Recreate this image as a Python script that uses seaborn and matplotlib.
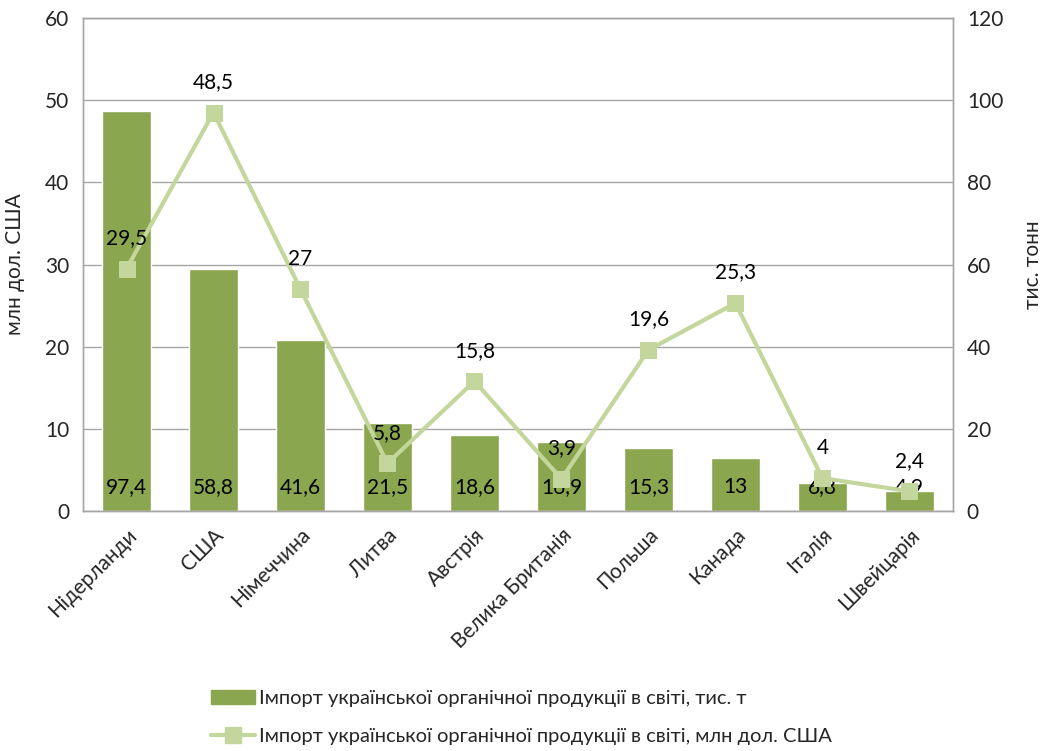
import matplotlib
matplotlib.use("Agg")
import matplotlib.pyplot as plt
import pandas as pd
import seaborn as sns
from matplotlib.lines import Line2D
from matplotlib.patches import Patch

countries = ["Нідерланди", "США", "Німеччина", "Литва", "Австрія",
             "Велика Британія", "Польша", "Канада", "Італія", "Швейцарія"]
tonnes = [97.4, 58.8, 41.6, 21.5, 18.6, 16.9, 15.3, 13, 6.8, 4.9]
usd = [29.5, 48.5, 27, 5.8, 15.8, 3.9, 19.6, 25.3, 4, 2.4]

bar_label = "Імпорт української органічної продукції в світі, тис. т"
line_label = "Імпорт української органічної продукції в світі, млн дол. США"

bar_color = "#8aa64f"
line_color = "#c3d69b"
grid_color = "#a6a6a6"
fs = 15

sns.set_style("white")
plt.rcParams["font.family"] = ["Lato", "DejaVu Sans"]

df = pd.DataFrame({"country": countries, "tonnes": tonnes, "usd": usd})

fig = plt.figure(figsize=(10.43, 7.51), dpi=100)
ax = fig.add_axes([0.0796, 0.3196, 0.834, 0.6564])
ax2 = ax.twinx()

# bars on the tonnes axis (right side)
sns.barplot(data=df, x="country", y="tonnes", color=bar_color, width=0.56,
            saturation=1, ax=ax, zorder=2)
ax.set_ylim(0, 120)
ax.set_yticks(range(0, 121, 20))
ax.set_xlabel("")
ax.grid(axis="y", color=grid_color, linewidth=1, zorder=0)
ax.set_axisbelow(True)
ax.set_xlim(-0.5, len(countries) - 0.5)

for i, v in enumerate(tonnes):
    ax.annotate(f"{v:g}".replace(".", ","), xy=(i, 0), xytext=(0, 17),
                textcoords="offset points", ha="center", va="center",
                fontsize=fs, color="black", zorder=5)

# line on the usd axis (left side)
sns.lineplot(data=df, x="country", y="usd", color=line_color, linewidth=3,
             marker="s", markersize=12, markeredgecolor=line_color,
             ax=ax2, sort=False)
ax2.set_ylim(0, 60)
ax2.set_yticks(range(0, 61, 10))
ax2.set_xlabel("")
ax2.set_xlim(-0.5, len(countries) - 0.5)

for i, v in enumerate(usd):
    ax2.annotate(f"{v:g}".replace(".", ","), xy=(i, v), xytext=(0, 22),
                 textcoords="offset points", ha="center", va="center",
                 fontsize=fs, color="black")

# swap sides: bars axis on the right, line axis on the left
ax.yaxis.tick_right()
ax.yaxis.set_label_position("right")
ax.set_ylabel("тис. тонн", fontsize=fs, labelpad=14)
ax2.yaxis.tick_left()
ax2.yaxis.set_label_position("left")
ax2.set_ylabel("млн дол. США", fontsize=fs, labelpad=14)

for a in (ax, ax2):
    a.tick_params(axis="y", labelsize=fs, length=0, pad=10)
    a.tick_params(axis="x", length=0)
    for s in a.spines.values():
        s.set_color(grid_color)
        s.set_linewidth(1)

ax.set_xticks(range(len(countries)))
ax.set_xticklabels(countries, rotation=45, ha="right", rotation_mode="anchor",
                   fontsize=fs)
ax.tick_params(axis="x", pad=10)

handles = [Patch(facecolor=bar_color, edgecolor=bar_color),
           Line2D([0], [0], color=line_color, linewidth=3, marker="s",
                  markersize=12)]
fig.legend(handles, [bar_label, line_label], loc="upper left",
           bbox_to_anchor=(0.185, 0.105), frameon=False, fontsize=14.5,
           labelspacing=1.0, handlelength=2.2, handletextpad=0.2)

fig.savefig("out.png", dpi=100)
